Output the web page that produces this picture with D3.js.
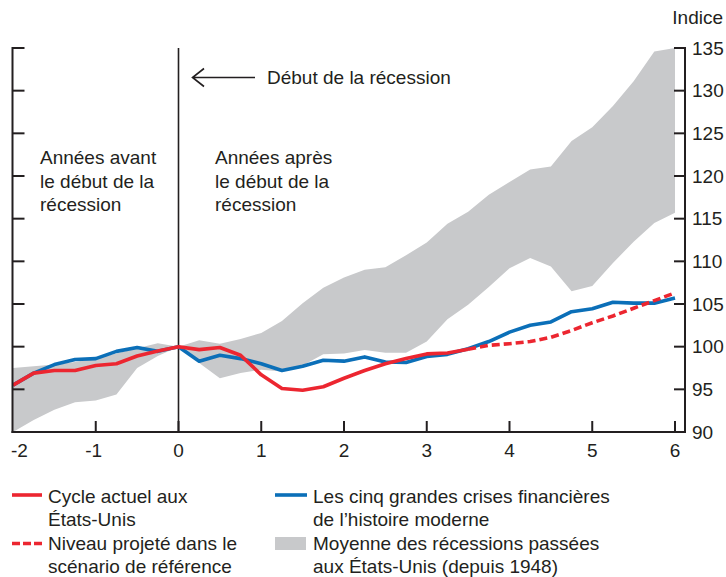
<!DOCTYPE html>
<html>
<head>
<meta charset="utf-8">
<script src="https://cdn.jsdelivr.net/npm/d3@7"></script>
<style>
  body { margin: 0; background: #fff; }
  text { font-family: "Liberation Sans", Arial, sans-serif; fill: #231f20; }
</style>
</head>
<body>
<svg id="chart" width="726" height="577"></svg>
<script>
// Quarters (years from start of recession)
var quarters = [-2, -1.75, -1.5, -1.25, -1, -0.75, -0.5, -0.25, 0, 0.25, 0.5, 0.75, 1, 1.25, 1.5, 1.75,
  2, 2.25, 2.5, 2.75, 3, 3.25, 3.5, 3.75, 4, 4.25, 4.5, 4.75, 5, 5.25, 5.5, 5.75, 6];

// Current US cycle (solid up to 3.5, then projection)
var actualQuarters = quarters.slice(0, 23);
var actualValues = [95.5, 96.9, 97.2, 97.2, 97.8, 98.0, 98.9, 99.5, 100, 99.65, 99.9, 99.0, 96.7, 95.1, 94.9, 95.3,
  96.3, 97.2, 98.0, 98.6, 99.15, 99.25, 99.7];
var projQuarters = quarters.slice(22);
var projValues = [99.7, 100.15, 100.35, 100.6, 101.1, 101.9, 102.8, 103.6, 104.5, 105.4, 106.3];

// Big five financial crises
var crisisValues = [95.5, 96.9, 97.9, 98.5, 98.6, 99.45, 99.9, 99.45, 100, 98.3, 99.0, 98.6, 98.0, 97.2, 97.7, 98.4,
  98.3, 98.8, 98.2, 98.15, 98.85, 99.1, 99.75, 100.6, 101.7, 102.5, 102.9, 104.1, 104.45, 105.2, 105.1, 105.1, 105.7];

// Range of past US recessions (since 1948)
var bandHigh = [97.5, 97.7, 97.9, 98.2, 98.6, 99.2, 99.8, 100.4, 100, 100.75, 100.35, 100.9, 101.6, 103.0, 105.1, 106.9,
  108.1, 109.0, 109.3, 110.7, 112.2, 114.4, 115.8, 117.8, 119.3, 120.75, 121.1, 124.1, 125.7, 128.2, 131.1, 134.6, 135.0];
var bandLow = [90.0, 91.4, 92.6, 93.5, 93.7, 94.4, 97.5, 98.9, 100, 98.1, 96.3, 96.9, 97.3, 97.1, 97.8, 99.1,
  99.2, 99.6, 99.3, 99.3, 100.6, 103.2, 104.9, 107.0, 109.2, 110.4, 109.4, 106.5, 107.1, 109.8, 112.3, 114.5, 115.7];

var xTicks = [-2, -1, 0, 1, 2, 3, 4, 5, 6];
var yTicks = [90, 95, 100, 105, 110, 115, 120, 125, 130, 135];

var red = "#ec2630";
var blue = "#0b6fb8";
var grey = "#c8c9cb";
var ink = "#231f20";
var fontSize = 19;

var svg = d3.select("#chart");

var x = d3.scaleLinear().domain([-2, 6]).range([13, 675]);
var y = d3.scaleLinear().domain([90, 135]).range([432, 48]);

var leftEdge = 12.5, rightEdge = 685, bottom = 432;

// Shaded band
var area = d3.area()
  .x((d, i) => x(quarters[i]))
  .y0((d, i) => y(bandLow[i]))
  .y1((d) => y(d));
svg.append("path").datum(bandHigh).attr("d", area).attr("fill", grey);

// Start of recession line
svg.append("line")
  .attr("x1", x(0)).attr("x2", x(0))
  .attr("y1", y(135)).attr("y2", bottom)
  .attr("stroke", ink).attr("stroke-width", 1.6);

// Lines
var line = d3.line()
  .x((d) => x(d[0]))
  .y((d) => y(d[1]));

svg.append("path")
  .datum(d3.zip(quarters, crisisValues))
  .attr("d", line).attr("fill", "none")
  .attr("stroke", blue).attr("stroke-width", 3.6).attr("stroke-linejoin", "round");

svg.append("path")
  .datum(d3.zip(projQuarters, projValues))
  .attr("d", line).attr("fill", "none")
  .attr("stroke", red).attr("stroke-width", 3.6).attr("stroke-dasharray", "8,4");

svg.append("path")
  .datum(d3.zip(actualQuarters, actualValues))
  .attr("d", line).attr("fill", "none")
  .attr("stroke", red).attr("stroke-width", 3.6).attr("stroke-linejoin", "round");

// Axes frame
var axes = svg.append("g").attr("stroke", ink).attr("stroke-width", 2);
axes.append("line").attr("x1", leftEdge).attr("x2", leftEdge).attr("y1", y(135) - 1).attr("y2", bottom + 1);
axes.append("line").attr("x1", rightEdge).attr("x2", rightEdge).attr("y1", y(135) - 1).attr("y2", bottom + 1);
axes.append("line").attr("x1", leftEdge - 1).attr("x2", rightEdge + 1).attr("y1", bottom).attr("y2", bottom);

// Y ticks (both sides) and right labels
yTicks.forEach((t) => {
  if (t === 90) return;
  axes.append("line").attr("x1", leftEdge).attr("x2", leftEdge + 12).attr("y1", y(t)).attr("y2", y(t));
  axes.append("line").attr("x1", rightEdge - 11).attr("x2", rightEdge).attr("y1", y(t)).attr("y2", y(t));
});
yTicks.forEach((t) => {
  svg.append("text").attr("x", 692).attr("y", y(t)).attr("dy", "0.35em")
    .attr("font-size", fontSize).text(t);
});

// X ticks and labels
xTicks.forEach((t) => {
  if (t !== -2) {
    axes.append("line").attr("x1", x(t)).attr("x2", x(t)).attr("y1", bottom).attr("y2", bottom - 11);
  }
  svg.append("text")
    .attr("x", t === -2 ? 11 : x(t) - (t < 0 ? 2 : 0))
    .attr("y", 457)
    .attr("text-anchor", t === -2 ? "start" : "middle")
    .attr("font-size", fontSize)
    .text(t);
});

svg.append("text").attr("x", 723).attr("y", 24).attr("text-anchor", "end")
  .attr("font-size", fontSize).text("Indice");

// Annotations
function multiline(lines, x0, y0, step) {
  var t = svg.append("text").attr("font-size", fontSize);
  lines.forEach((s, i) => {
    t.append("tspan").attr("x", x0).attr("y", y0 + i * step).text(s);
  });
}
multiline(["Années avant", "le début de la", "récession"], 40, 164, 23.5);
multiline(["Années après", "le début de la", "récession"], 215, 164, 23.5);

svg.append("path")
  .attr("d", "M204,68.5 L192.5,77.5 L204,86.5 M192.5,77.5 L255,77.5")
  .attr("fill", "none").attr("stroke", ink).attr("stroke-width", 1.6);
svg.append("text").attr("x", 267).attr("y", 84).attr("font-size", fontSize).text("Début de la récession");

// Legend
var lg = svg.append("g");
lg.append("line").attr("x1", 12).attr("x2", 42).attr("y1", 495).attr("y2", 495)
  .attr("stroke", red).attr("stroke-width", 3.6);
lg.append("line").attr("x1", 12).attr("x2", 42).attr("y1", 543.5).attr("y2", 543.5)
  .attr("stroke", red).attr("stroke-width", 3.6).attr("stroke-dasharray", "8,3");
lg.append("line").attr("x1", 275).attr("x2", 307).attr("y1", 495).attr("y2", 495)
  .attr("stroke", blue).attr("stroke-width", 3.6);
lg.append("rect").attr("x", 275).attr("y", 537).attr("width", 31).attr("height", 13).attr("fill", grey);

multiline(["Cycle actuel aux", "États-Unis", "Niveau projeté dans le", "scénario de référence"], 48, 503, 23.4);
multiline(["Les cinq grandes crises financières", "de l’histoire moderne", "Moyenne des récessions passées", "aux États-Unis (depuis 1948)"], 313, 503, 23.4);
</script>
</body>
</html>
